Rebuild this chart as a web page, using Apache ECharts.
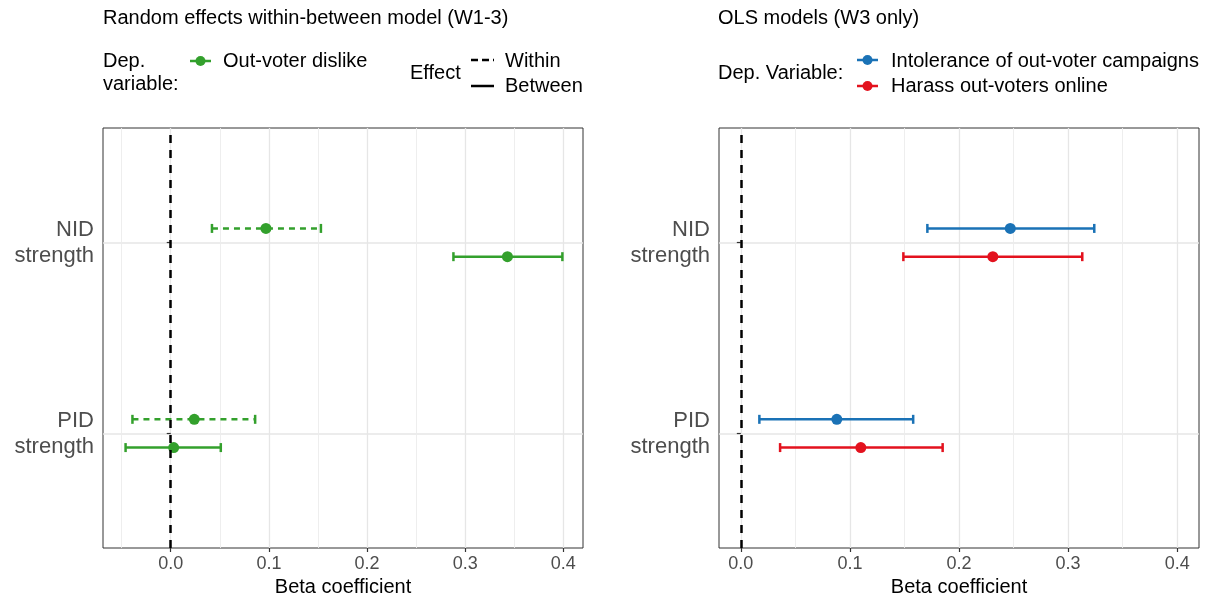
<!DOCTYPE html>
<html>
<head>
<meta charset="utf-8">
<title>Beta coefficients</title>
<script src="https://cdn.jsdelivr.net/npm/echarts@6/dist/echarts.min.js"></script>
<style>
  html, body { margin: 0; padding: 0; background: #fff; }
  #chart { width: 1209px; height: 599px; }
</style>
</head>
<body>
<div id="chart"></div>
<script>
// y categories, bottom to top
const categories = ['PID\nstrength', 'NID\nstrength'];
const yPos = [1, 2];

// x ticks
const xMajor = [0, 0.1, 0.2, 0.3, 0.4];
const xMinor = [-0.05, 0.05, 0.15, 0.25, 0.35];

// left panel: random effects within-between (W1-3), out-voter dislike
const withinEst = [0.024, 0.097];
const withinLo = [-0.039, 0.042];
const withinHi = [0.086, 0.153];
const betweenEst = [0.003, 0.343];
const betweenLo = [-0.046, 0.288];
const betweenHi = [0.051, 0.399];

// right panel: OLS models (W3 only)
const intolEst = [0.088, 0.247];
const intolLo = [0.017, 0.171];
const intolHi = [0.158, 0.324];
const harassEst = [0.110, 0.231];
const harassLo = [0.036, 0.149];
const harassHi = [0.185, 0.313];

const FONT = '"Liberation Sans", Arial, Helvetica, sans-serif';
const GREEN = '#33A02C', BLUE = '#1A72B6', RED = '#E3121E';
const GRID = '#E6E6E6';
const DODGE = 0.074;
const DASH = [6, 5];

function rows(est, lo, hi, offset) {
  return est.map((v, i) => [v, lo[i], hi[i], yPos[i] + offset]);
}

function renderBar(dashed, color) {
  return function (params, api) {
    const y = api.value(3);
    const p = api.coord([api.value(0), y]);
    const a = api.coord([api.value(1), y]);
    const b = api.coord([api.value(2), y]);
    const cap = 4.5;
    const lw = 2.5;
    return {
      type: 'group',
      children: [
        { type: 'line', shape: { x1: a[0], y1: a[1], x2: b[0], y2: b[1] },
          style: { stroke: color, lineWidth: lw, lineDash: dashed ? DASH : null } },
        { type: 'line', shape: { x1: a[0], y1: a[1] - cap, x2: a[0], y2: a[1] + cap },
          style: { stroke: color, lineWidth: lw } },
        { type: 'line', shape: { x1: b[0], y1: b[1] - cap, x2: b[0], y2: b[1] + cap },
          style: { stroke: color, lineWidth: lw } },
        { type: 'circle', shape: { cx: p[0], cy: p[1], r: 5.5 }, style: { fill: color } }
      ]
    };
  };
}

function barSeries(name, idx, data, dashed, color, vline) {
  const s = {
    name: name,
    type: 'custom',
    xAxisIndex: idx * 2,
    yAxisIndex: idx,
    renderItem: renderBar(dashed, color),
    encode: { x: [0, 1, 2], y: 3 },
    data: data,
    silent: true,
    z: 3
  };
  if (vline) {
    s.markLine = {
      silent: true,
      symbol: 'none',
      label: { show: false },
      lineStyle: { color: '#000', width: 2.5, type: [8, 7] },
      data: [{ xAxis: 0 }],
      z: 5
    };
  }
  return s;
}

const panels = [
  { min: -0.069, max: 0.42, grid: { left: 103, right: 626 } },
  { min: -0.02, max: 0.42, grid: { left: 719, right: 10 } }
];

const grids = panels.map(p => ({
  left: p.grid.left, right: p.grid.right, top: 128, bottom: 51,
  show: true, borderColor: '#333', borderWidth: 1, backgroundColor: 'transparent',
  outerBoundsMode: 'none', containLabel: false
}));

const xAxes = [];
panels.forEach((p, i) => {
  xAxes.push({
    type: 'value', gridIndex: i, min: p.min, max: p.max, position: 'bottom',
    axisLine: { show: false },
    axisTick: { show: true, length: 4, customValues: xMajor, lineStyle: { color: '#333', width: 1.2 } },
    axisLabel: { customValues: xMajor, formatter: v => v.toFixed(1), color: '#4D4D4D',
      fontSize: 18, fontFamily: FONT, margin: 7 },
    splitLine: { show: true, lineStyle: { color: GRID, width: 1.3 } },
    name: 'Beta coefficient', nameLocation: 'middle', nameGap: 29,
    nameTextStyle: { color: '#000', fontSize: 20, fontFamily: FONT }
  });
  xAxes.push({
    type: 'value', gridIndex: i, min: p.min, max: p.max, position: 'bottom',
    axisLine: { show: false },
    axisTick: { show: false, customValues: xMinor.filter(v => v >= p.min && v <= p.max) },
    axisLabel: { show: false },
    splitLine: { show: true, lineStyle: { color: '#ECECEC', width: 0.9 } }
  });
});

const yAxes = panels.map((p, i) => ({
  type: 'value', gridIndex: i, min: 0.4, max: 2.6,
  axisLine: { show: false },
  axisTick: { show: true, length: 4, customValues: yPos, lineStyle: { color: '#333', width: 1.2 } },
  axisLabel: { customValues: yPos, formatter: v => categories[Math.round(v) - 1],
    color: '#4D4D4D', fontSize: 22, lineHeight: 26, fontFamily: FONT, margin: 9, align: 'right' },
  splitLine: { show: true, lineStyle: { color: GRID, width: 1.5 } }
}));

function txt(text, x, y, size) {
  return { type: 'text', x: x, y: y, silent: true,
    style: { text: text, fill: '#000', fontSize: size || 20, fontFamily: FONT, verticalAlign: 'middle', align: 'left' } };
}
function keyLine(x1, x2, y, color, dash) {
  return { type: 'line', silent: true, shape: { x1: x1, y1: y, x2: x2, y2: y },
    style: { stroke: color, lineWidth: 2.5, lineDash: dash || null } };
}
function keyDot(cx, cy, color) {
  return { type: 'circle', silent: true, shape: { cx: cx, cy: cy, r: 5 }, style: { fill: color } };
}

const graphics = [
  txt('Dep.', 103, 61), txt('variable:', 103, 84),
  keyLine(190, 211, 61, GREEN), keyDot(200.5, 61, GREEN),
  txt('Out-voter dislike', 223, 61),
  txt('Effect', 410, 73),
  keyLine(471, 494, 60, '#000', [7, 4]), txt('Within', 505, 61),
  keyLine(471, 494, 86, '#000'), txt('Between', 505, 86),
  txt('Dep. Variable:', 718, 73),
  keyLine(857, 878, 60, BLUE), keyDot(867.5, 60, BLUE),
  txt('Intolerance of out-voter campaigns', 891, 61),
  keyLine(857, 878, 86, RED), keyDot(867.5, 86, RED),
  txt('Harass out-voters online', 891, 86)
];

const chart = echarts.init(document.getElementById('chart'), null, { renderer: 'canvas' });
chart.setOption({
  animation: false,
  backgroundColor: '#fff',
  textStyle: { fontFamily: FONT },
  title: [
    { text: 'Random effects within-between model (W1-3)', left: 103, top: 8, padding: 0,
      textStyle: { color: '#000', fontSize: 20, fontWeight: 'normal', fontFamily: FONT } },
    { text: 'OLS models (W3 only)', left: 718, top: 8, padding: 0,
      textStyle: { color: '#000', fontSize: 20, fontWeight: 'normal', fontFamily: FONT } }
  ],
  grid: grids,
  xAxis: xAxes,
  yAxis: yAxes,
  graphic: graphics,
  series: [
    barSeries('Within', 0, rows(withinEst, withinLo, withinHi, DODGE), true, GREEN, true),
    barSeries('Between', 0, rows(betweenEst, betweenLo, betweenHi, -DODGE), false, GREEN, false),
    barSeries('Intolerance of out-voter campaigns', 1, rows(intolEst, intolLo, intolHi, DODGE), false, BLUE, true),
    barSeries('Harass out-voters online', 1, rows(harassEst, harassLo, harassHi, -DODGE), false, RED, false)
  ]
});
</script>
</body>
</html>
